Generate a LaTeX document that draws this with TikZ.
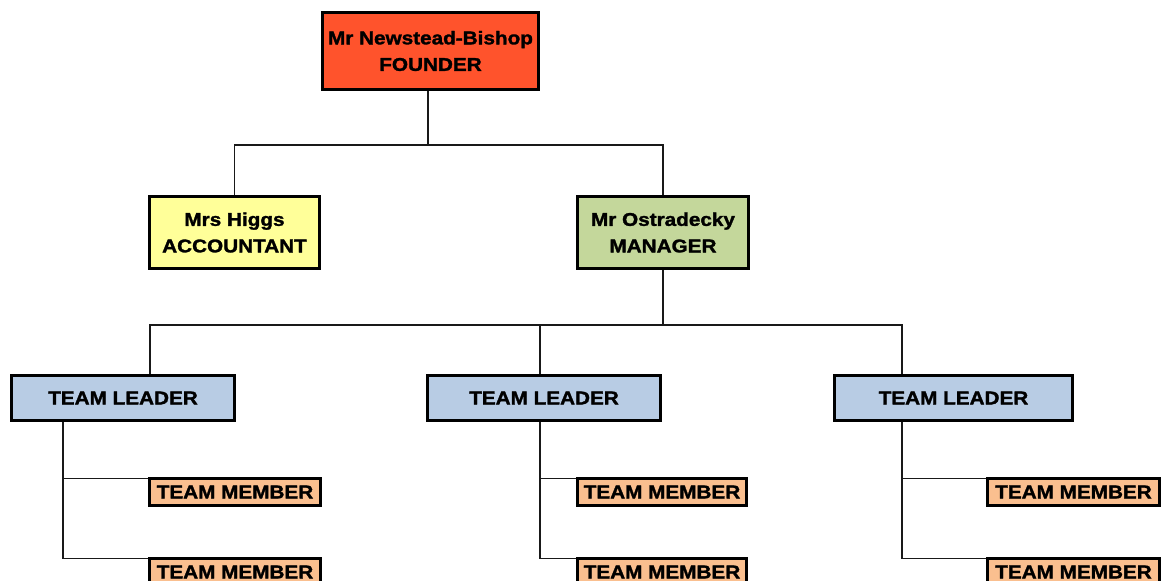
\documentclass[tikz,border=0pt]{standalone}
\usepackage{fontspec}
\newfontfamily\boxfont{Liberation Sans}[FakeStretch=1.12, BoldFeatures={FakeBold=1.6}]
\definecolor{founderfill}{RGB}{255,83,44}
\definecolor{accfill}{RGB}{255,255,153}
\definecolor{mgrfill}{RGB}{196,215,155}
\definecolor{leadfill}{RGB}{184,204,228}
\definecolor{memfill}{RGB}{250,191,143}
\definecolor{linecol}{RGB}{25,25,25}
\tikzset{
  box/.style={draw=black, line width=3pt, rectangle, inner sep=0pt, align=center,
    font=\boxfont\bfseries\fontsize{18.5}{26.5}\selectfont, text=black},
  topbox/.style={box, minimum width=216pt, minimum height=77pt},
  midbox/.style={box, minimum height=72pt},
  leadbox/.style={box, fill=leadfill, minimum height=45pt},
  membox/.style={box, fill=memfill, minimum width=171pt, minimum height=27pt},
  link/.style={draw=linecol, line width=1.4pt}
}
\begin{document}
\begin{tikzpicture}[x=1pt, y=-1pt]
\useasboundingbox[fill=white] (0,0) rectangle (1162,581);

% top level
\node[topbox, fill=founderfill] (founder) at (430.5,51) {Mr Newstead-Bishop\\FOUNDER};

% second level
\node[midbox, fill=accfill, minimum width=170pt] (higgs) at (234.5,232.5) {Mrs Higgs\\ACCOUNTANT};
\node[midbox, fill=mgrfill, minimum width=171pt] (manager) at (663,232.5) {Mr Ostradecky\\MANAGER};

% team leaders
\node[leadbox, minimum width=223pt] (lead1) at (123,398) {TEAM LEADER};
\node[leadbox, minimum width=233pt] (lead2) at (544,398) {TEAM LEADER};
\node[leadbox, minimum width=238pt] (lead3) at (953.5,398) {TEAM LEADER};

% team members
\node[membox] (m11) at (235,492) {TEAM MEMBER};
\node[membox] (m12) at (235,572) {TEAM MEMBER};
\node[membox, minimum width=169pt] (m21) at (662,492) {TEAM MEMBER};
\node[membox, minimum width=169pt] (m22) at (662,572) {TEAM MEMBER};
\node[membox, minimum width=172pt] (m31) at (1073.5,492) {TEAM MEMBER};
\node[membox, minimum width=172pt] (m32) at (1073.5,572) {TEAM MEMBER};

% connectors
\coordinate (bus1) at (428,145);
\coordinate (bus2) at (663,325);
\draw[link] ([xshift=-2.5pt]founder.south) -- (bus1);
\draw[link] (higgs.north) |- (bus1) -| (manager.north);
\draw[link] (manager.south) -- (bus2);
\draw[link] ([xshift=27pt]lead1.north) |- (bus2) -| ([xshift=-51.5pt]lead3.north);
\draw[link] ([xshift=-4pt]lead2.north) -- ([xshift=-4pt]lead2.north |- bus2);

% leader-to-member drops
\draw[link] ([xshift=-60pt]lead1.south) |- ([yshift=-1.5pt]m12.north west);
\draw[link] ([xshift=-60pt]lead1.south) |- ([yshift=-1.5pt]m11.north west);
\draw[link] ([xshift=-4pt]lead2.south) |- ([yshift=-1.5pt]m22.north west);
\draw[link] ([xshift=-4pt]lead2.south) |- ([yshift=-1.5pt]m21.north west);
\draw[link] ([xshift=-51.5pt]lead3.south) |- ([yshift=-1.5pt]m32.north west);
\draw[link] ([xshift=-51.5pt]lead3.south) |- ([yshift=-1.5pt]m31.north west);
\end{tikzpicture}
\end{document}
